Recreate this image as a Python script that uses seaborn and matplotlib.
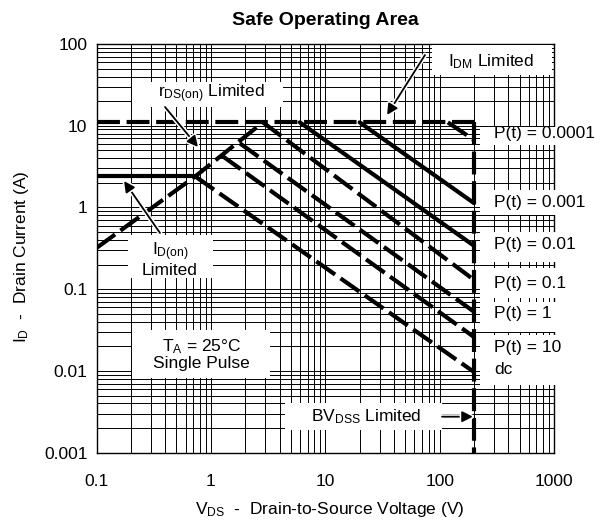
import matplotlib
matplotlib.use("Agg")
import matplotlib.pyplot as plt
import matplotlib.patheffects as pe
from matplotlib.patches import Rectangle
from matplotlib.ticker import FixedLocator, FixedFormatter, LogLocator, NullFormatter
import pandas as pd
import seaborn as sns

# ---- axis ticks ----
x_ticks = [0.1, 1, 10, 100, 1000]
x_tick_labels = ["0.1", "1", "10", "100", "1000"]
y_ticks = [0.001, 0.01, 0.1, 1, 10, 100]
y_tick_labels = ["0.001", "0.01", "0.1", "1", "10", "100"]

# ---- limit boundaries (V, A) ----
idm_v = [0.1, 200]
idm_i = [11, 11]
rds_v = [0.1, 0.73, 2.85]
rds_i = [0.32, 2.4, 11]
idon_v = [0.1, 0.73]
idon_i = [2.4, 2.4]
bv_v = [200, 200]
bv_i = [11, 0.001]

# ---- pulse-width lines: start point on the boundary, end point on BVdss ----
pulse_names = ["P(t) = 0.0001", "P(t) = 0.001", "P(t) = 0.01", "P(t) = 0.1",
               "P(t) = 1", "P(t) = 10", "dc"]
pulse_v_start = [118, 20, 6.0, 2.85, 1.79, 1.25, 0.73]
pulse_i_start = [11, 11, 11, 11, 6.1, 4.3, 2.4]
pulse_v_end = [200, 200, 200, 200, 200, 200, 200]
pulse_i_end = [6.7, 1.13, 0.34, 0.13, 0.053, 0.026, 0.0097]
pulse_solid = [False, True, True, False, False, False, False]

sns.set_theme(style="white")
plt.rcParams["font.family"] = ["Liberation Sans", "DejaVu Sans"]
plt.rcParams["mathtext.fontset"] = "custom"
plt.rcParams["mathtext.rm"] = "Liberation Sans"
plt.rcParams["text.color"] = "black"

FS = 12.5
LW = 3.0
DASH = (0, (5.5, 1.6))

fig = plt.figure(figsize=(6.01, 5.25), dpi=100)
ax = fig.add_axes([0.16057, 0.13771, 0.76123, 0.77848])
ax.set_xscale("log")
ax.set_yscale("log")
ax.set_xlim(0.1, 1000)
ax.set_ylim(0.001, 100)

ax.xaxis.set_major_locator(FixedLocator(x_ticks))
ax.xaxis.set_major_formatter(FixedFormatter(x_tick_labels))
ax.yaxis.set_major_locator(FixedLocator(y_ticks))
ax.yaxis.set_major_formatter(FixedFormatter(y_tick_labels))
for axis in (ax.xaxis, ax.yaxis):
    axis.set_minor_locator(LogLocator(base=10, subs=range(2, 10), numticks=20))
    axis.set_minor_formatter(NullFormatter())
ax.tick_params(which="both", length=0, labelsize=FS, colors="black")
ax.tick_params(axis="x", pad=15)
ax.tick_params(axis="y", pad=6.5)
ax.grid(True, which="both", color="black", lw=0.7)
ax.set_axisbelow(True)
for sp in ax.spines.values():
    sp.set_color("black")
    sp.set_linewidth(1.0)


def draw(v, i, solid):
    sns.lineplot(x=v, y=i, ax=ax, color="black", lw=LW, estimator=None,
                 sort=False, legend=False, zorder=4,
                 linestyle="-" if solid else DASH)


draw(idm_v, idm_i, False)
draw(rds_v, rds_i, False)
draw(idon_v, idon_i, True)
draw(bv_v, bv_i, False)
for k in range(len(pulse_names)):
    draw([pulse_v_start[k], pulse_v_end[k]], [pulse_i_start[k], pulse_i_end[k]],
         pulse_solid[k])


def box(x0, y0, x1, y1):
    ax.add_patch(Rectangle((x0, y0), x1 - x0, y1 - y0, transform=ax.transAxes,
                           facecolor="white", edgecolor="none", zorder=3,
                           clip_on=False))


def label(x, y, s, ha="center"):
    ax.text(x, y, s, transform=ax.transAxes, ha=ha, va="center",
            fontsize=FS, zorder=5, clip_on=False, linespacing=1.05)


def arrow(tail, head):
    a = ax.annotate("", xy=head, xytext=tail, xycoords="axes fraction",
                    textcoords="axes fraction", zorder=5,
                    arrowprops=dict(arrowstyle="-|>", color="black", lw=1.3,
                                    mutation_scale=16, shrinkA=0, shrinkB=0))
    a.arrow_patch.set_path_effects([pe.Stroke(linewidth=3.5, foreground="white"),
                                    pe.Normal()])


# annotation boxes
box(0.0776, 0.8459, 0.4077, 0.9070)
label(0.2503, 0.8777, r"$\mathregular{r_{DS(on)}}$ Limited")
arrow((0.1497, 0.8459), (0.2219, 0.7480))

box(0.7327, 0.9242, 0.9950, 0.9976)
label(0.8623, 0.9567, r"$\mathregular{I_{DM}}$ Limited")
arrow((0.7180, 0.9731), (0.6350, 0.8263))

box(0.0695, 0.4267, 0.2553, 0.5327)
label(0.1607, 0.4739, "$\\mathregular{I_{D(on)}}$\nLimited")
arrow((0.1388, 0.5376), (0.0601, 0.6648))

box(0.0769, 0.1820, 0.3792, 0.3002)
label(0.2300, 0.2415, "$\\mathregular{T_A}$ = 25°C\nSingle Pulse")

box(0.4120, 0.0555, 0.7545, 0.1209)
label(0.5891, 0.0881, r"$\mathregular{BV_{DSS}}$ Limited")
arrow((0.7552, 0.0881), (0.8230, 0.0881))

# pulse-width labels on the right
p_boxes = [(0.7529, 0.7977), (0.5816, 0.6428), (0.4673, 0.5407),
           (0.3780, 0.4519), (0.2961, 0.3695), (0.1657, 0.2880)]
for y0, y1 in p_boxes:
    box(0.8383, y0, 1.11, y1)
p_text_y = [0.7820, 0.6110, 0.5082, 0.4152, 0.3418, 0.2586, 0.2024]
for name, ty in zip(pulse_names, p_text_y):
    label(0.8695, ty, name, ha="left")

# titles
ax.text(0.5, 1.0587, "Safe Operating Area", transform=ax.transAxes,
        ha="center", va="center", fontsize=14, fontweight="bold")
ax.text(0.510, -0.140, r"$\mathregular{V_{DS}}$  -  Drain-to-Source Voltage (V)",
        transform=ax.transAxes, ha="center", va="center", fontsize=FS)
ax.text(-0.163, 0.479, r"$\mathregular{I_D}$  -  Drain Current (A)",
        transform=ax.transAxes, ha="center", va="center", fontsize=FS,
        rotation=90)

fig.savefig("out.png", dpi=100)
